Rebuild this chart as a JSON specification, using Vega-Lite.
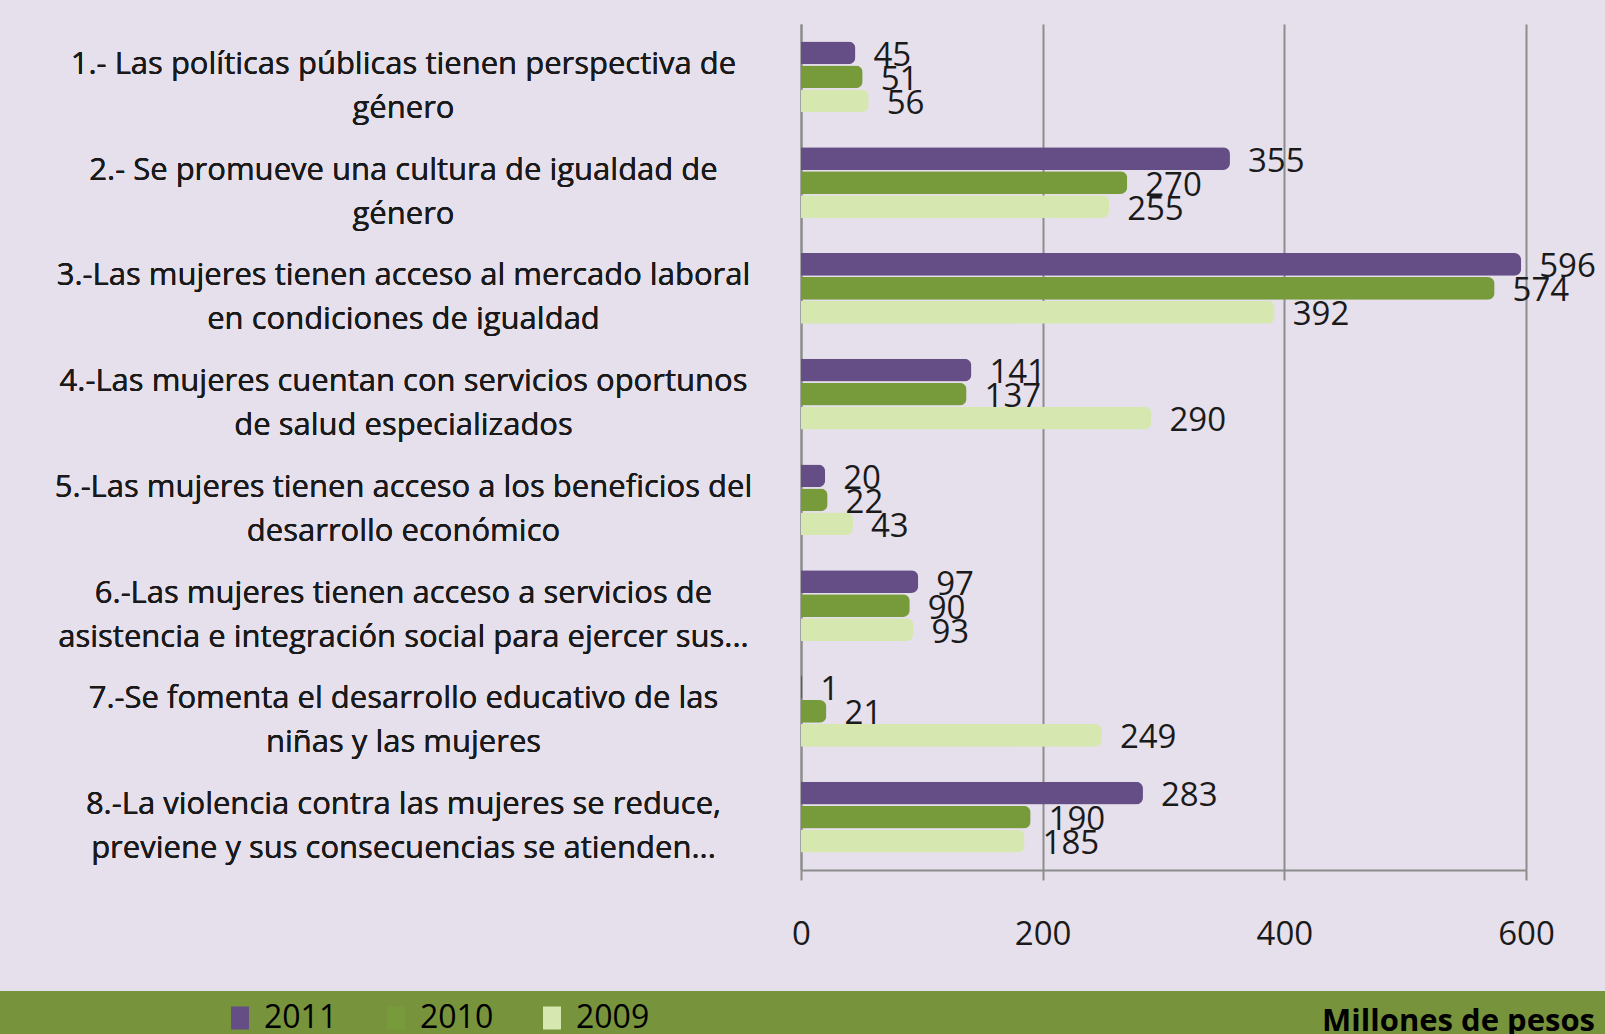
{
  "$schema": "https://vega.github.io/schema/vega-lite/v6.json",
  "background": "#e6e0ec",
  "padding": {"left": 0, "top": 24, "right": 0, "bottom": 0},
  "spacing": 40,
  "config": {
    "view": {"stroke": null},
    "font": "Open Sans",
    "text": {"font": "Open Sans"}
  },
  "datasets": {
    "budget": [
      {"c": "1.- Las políticas públicas tienen  perspectiva de|género", "y": "2011", "v": 45},
      {"c": "1.- Las políticas públicas tienen  perspectiva de|género", "y": "2010", "v": 51},
      {"c": "1.- Las políticas públicas tienen  perspectiva de|género", "y": "2009", "v": 56},
      {"c": "2.- Se promueve una cultura de igualdad de|género", "y": "2011", "v": 355},
      {"c": "2.- Se promueve una cultura de igualdad de|género", "y": "2010", "v": 270},
      {"c": "2.- Se promueve una cultura de igualdad de|género", "y": "2009", "v": 255},
      {"c": "3.-Las mujeres tienen acceso al mercado laboral|en condiciones de igualdad", "y": "2011", "v": 596},
      {"c": "3.-Las mujeres tienen acceso al mercado laboral|en condiciones de igualdad", "y": "2010", "v": 574},
      {"c": "3.-Las mujeres tienen acceso al mercado laboral|en condiciones de igualdad", "y": "2009", "v": 392},
      {"c": "4.-Las mujeres cuentan con servicios oportunos|de salud especializados", "y": "2011", "v": 141},
      {"c": "4.-Las mujeres cuentan con servicios oportunos|de salud especializados", "y": "2010", "v": 137},
      {"c": "4.-Las mujeres cuentan con servicios oportunos|de salud especializados", "y": "2009", "v": 290},
      {"c": "5.-Las mujeres tienen acceso a los beneficios del|desarrollo económico", "y": "2011", "v": 20},
      {"c": "5.-Las mujeres tienen acceso a los beneficios del|desarrollo económico", "y": "2010", "v": 22},
      {"c": "5.-Las mujeres tienen acceso a los beneficios del|desarrollo económico", "y": "2009", "v": 43},
      {"c": "6.-Las mujeres tienen acceso a servicios de|asistencia e integración social para ejercer sus...", "y": "2011", "v": 97},
      {"c": "6.-Las mujeres tienen acceso a servicios de|asistencia e integración social para ejercer sus...", "y": "2010", "v": 90},
      {"c": "6.-Las mujeres tienen acceso a servicios de|asistencia e integración social para ejercer sus...", "y": "2009", "v": 93},
      {"c": "7.-Se fomenta el desarrollo educativo de las|niñas y las mujeres", "y": "2011", "v": 1},
      {"c": "7.-Se fomenta el desarrollo educativo de las|niñas y las mujeres", "y": "2010", "v": 21},
      {"c": "7.-Se fomenta el desarrollo educativo de las|niñas y las mujeres", "y": "2009", "v": 249},
      {"c": "8.-La violencia contra las mujeres se reduce,|previene y sus consecuencias se atienden...", "y": "2011", "v": 283},
      {"c": "8.-La violencia contra las mujeres se reduce,|previene y sus consecuencias se atienden...", "y": "2010", "v": 190},
      {"c": "8.-La violencia contra las mujeres se reduce,|previene y sus consecuencias se atienden...", "y": "2009", "v": 185}
    ],
    "years": [{"y": "2011"}, {"y": "2010"}, {"y": "2009"}],
    "unit": [{"t": "Millones de pesos"}]
  },
  "resolve": {"scale": {"color": "independent"}, "legend": {"color": "independent"}},
  "vconcat": [
    {
      "spacing": 4,
      "hconcat": [
        {
          "width": 787,
          "height": 846,
          "data": {"name": "budget"},
          "mark": {"type": "text", "align": "center", "baseline": "middle", "lineBreak": "|", "lineHeight": 44, "fontSize": 31, "dx": 10, "dy": -12, "color": "#1a1a1a"},
          "encoding": {
            "y": {"field": "c", "type": "nominal", "sort": null, "scale": {"paddingInner": 0.333, "paddingOuter": 0.1665}, "axis": null},
            "text": {"field": "c", "type": "nominal"}
          }
        },
        {
          "width": 725,
          "height": 846,
          "data": {"name": "budget"},
          "encoding": {
            "y": {
              "field": "c",
              "type": "nominal",
              "sort": null,
              "scale": {"paddingInner": 0.333, "paddingOuter": 0.1665},
              "axis": {
                "title": null,
                "labels": false,
                "ticks": false,
                "domainColor": "#8c8c8c",
                "domainWidth": 2,
                "grid": false
              }
            },
            "yOffset": {
              "field": "y",
              "type": "nominal",
              "sort": ["2011", "2010", "2009"],
              "scale": {"paddingInner": 0.05}
            },
            "x": {
              "field": "v",
              "type": "quantitative",
              "scale": {"domain": [0, 600]},
              "axis": {
                "title": null,
                "values": [0, 200, 400, 600],
                "grid": true,
                "gridColor": "#8c8c8c",
                "gridWidth": 2,
                "domainColor": "#8c8c8c",
                "domainWidth": 2,
                "tickColor": "#8c8c8c",
                "tickWidth": 2,
                "tickSize": 10,
                "labelFlush": false,
                "labelFontSize": 33,
                "labelFont": "Open Sans",
                "labelColor": "#1a1a1a",
                "labelPadding": 38
              }
            }
          },
          "layer": [
            {
              "mark": {"type": "bar", "cornerRadiusEnd": 7},
              "encoding": {
                "color": {
                  "field": "y",
                  "type": "nominal",
                  "scale": {"domain": ["2011", "2010", "2009"], "range": ["#654d85", "#779a3a", "#d6e7af"]},
                  "legend": null
                }
              }
            },
            {
              "mark": {"type": "text", "align": "left", "baseline": "middle", "dx": 18, "dy": 3, "fontSize": 33, "color": "#1a1a1a"},
              "encoding": {"text": {"field": "v", "type": "quantitative"}}
            }
          ]
        }
      ]
    },
    {
      "width": 1605,
      "height": 43,
      "view": {"fill": "#77933c", "stroke": null},
      "layer": [
        {
          "data": {"name": "years"},
          "mark": {"type": "point", "filled": true, "opacity": 0},
          "encoding": {
            "color": {
              "field": "y",
              "type": "nominal",
              "sort": ["2011", "2010", "2009"],
              "scale": {"domain": ["2011", "2010", "2009"], "range": ["#654d85", "#779a3a", "#d6e7af"]},
              "legend": {
                "title": null,
                "orient": "none",
                "direction": "horizontal",
                "legendX": 224,
                "legendY": 11,
                "padding": 0,
                "symbolType": "M-0.9,-1.15H0.9V1.15H-0.9Z",
                "symbolSize": 400,
                "symbolOpacity": 1,
                "symbolStrokeWidth": 0,
                "labelFontSize": 32,
                "labelFont": "Open Sans",
                "labelColor": "#000000",
                "labelOffset": 8,
                "columnPadding": 42,
                "encode": {"symbols": {"update": {"opacity": {"value": 1}, "fillOpacity": {"value": 1}, "size": {"value": 400}}}}
              }
            }
          }
        },
        {
          "data": {"name": "unit"},
          "mark": {"type": "text", "align": "right", "baseline": "alphabetic", "dx": -10, "dy": -3, "fontSize": 31, "fontWeight": "bold", "color": "#000000"},
          "encoding": {
            "x": {"value": "width"},
            "y": {"value": "height"},
            "text": {"field": "t", "type": "nominal"}
          }
        }
      ]
    }
  ]
}
